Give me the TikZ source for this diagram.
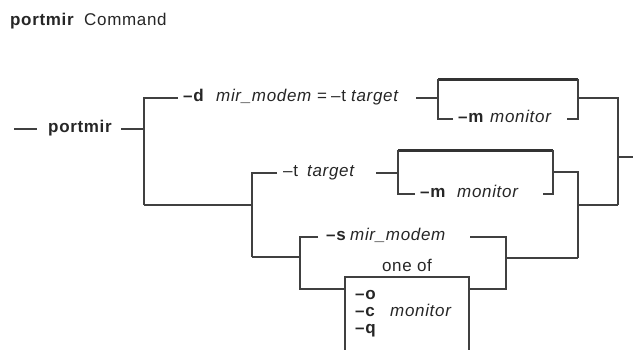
\documentclass[tikz,border=0pt]{standalone}
\usepackage{fontspec}
\setmainfont[LetterSpace=4]{Liberation Sans}
\begin{document}
\begin{tikzpicture}[x=1pt,y=-1pt,
  txt/.style={anchor=mid west,inner sep=0pt,text=black!85,font=\fontsize{17}{19}\selectfont},
  bf/.style={txt,font=\fontsize{17}{19}\selectfont\bfseries},
  it/.style={txt,font=\fontsize{17}{19}\selectfont\itshape},
  ln/.style={draw=black!75,line width=1.6pt,line join=miter},
  thk/.style={draw=black!80,line width=3pt}]
\useasboundingbox (0,0) rectangle (633,349);
% title
\node[bf] (tp) at (10,23) {portmir};
\node[txt] (tc) at (84,23) {Command};
% main entry
\coordinate (s0) at (14,129); \coordinate (s1) at (37,129);
\node[bf] (pm) at (48,130) {portmir};
\coordinate (s2) at (121,129);
\coordinate (A) at (144,98); \coordinate (Am) at (144,129); \coordinate (Ab) at (144,205);
\draw[ln] (s0) -- (s1);
\draw[ln] (s2) -- (Am);
\draw[ln] (Ab) -- (A) -- (178,98);
% row 1
\node[bf] (d) at (183,99) {–d};
\node[it] (mm1) at (216,99) {mir\_modem};
\node[txt] (eq) at (317,99) {=};
\node[txt] (t1) at (331,99) {–t};
\node[it] (tg1) at (351,99) {target};
\coordinate (b1l) at (438,98);
\draw[ln] (416,98) -- (b1l);
\draw[thk] (438,79) -- (578,79);
\draw[ln] (453,119) -- (438,119) -- (438,79);
\draw[ln] (567,119) -- (578,119) -- (578,79);
\node[bf] (m1) at (458,120) {–m};
\node[it] (mo1) at (490,120) {monitor};
\coordinate (R) at (618,98); \coordinate (Rb) at (618,205);
\draw[ln] (578,98) -- (R) -- (Rb);
\draw[ln] (618,157) -- (633,157);
% row 2
\coordinate (B) at (252,173); \coordinate (Bm) at (252,205); \coordinate (Bb) at (252,257);
\draw[ln] (Ab) -- (Bm);
\draw[ln] (277,173) -- (B) -- (Bb);
\node[txt] (t2) at (283,174) {–t};
\node[it] (tg2) at (307,174) {target};
\draw[ln] (376,173) -- (398,173);
\draw[thk] (398,150) -- (553,150);
\draw[ln] (415,194) -- (398,194) -- (398,150);
\draw[ln] (543,194) -- (553,194) -- (553,150);
\node[bf] (m2) at (420,195) {–m};
\node[it] (mo2) at (457,195) {monitor};
\coordinate (S) at (578,172); \coordinate (Sb) at (578,258);
\draw[ln] (553,172) -- (S) -- (Sb);
\draw[ln] (578,205) -- (Rb);
% row 3
\coordinate (C) at (300,237); \coordinate (Cm) at (300,257); \coordinate (Cb) at (300,289);
\draw[ln] (Bb) -- (Cm);
\draw[ln] (318,237) -- (C) -- (Cb) -- (345,289);
\node[bf] (s) at (326,238) {–s};
\node[it] (mm2) at (350,238) {mir\_modem};
\coordinate (D) at (506,237); \coordinate (Db) at (506,289);
\draw[ln] (470,237) -- (D) -- (Db) -- (469,289);
\draw[ln] (506,258) -- (Sb);
\node[txt,anchor=mid] (oneof) at (407,269) {one of};
\draw[ln] (345,350) -- (345,277) -- (469,277) -- (469,350);
\node[bf] (o) at (355,297) {–o};
\node[bf] (c) at (355,314) {–c};
\node[it] (mo3) at (390,314) {monitor};
\node[bf] (q) at (355,331) {–q};
\end{tikzpicture}
\end{document}
